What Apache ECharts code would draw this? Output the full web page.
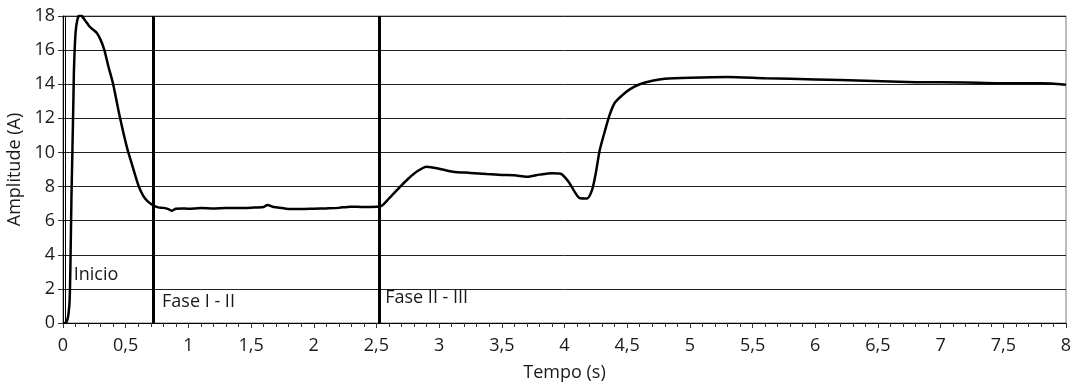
<!DOCTYPE html>
<html>
<head>
<meta charset="utf-8">
<script src="https://cdn.jsdelivr.net/npm/echarts@6/dist/echarts.min.js"></script>
<style>
  html, body { margin: 0; padding: 0; background: #fff; }
  #chart { width: 1076px; height: 385px; }
</style>
</head>
<body>
<div id="chart"></div>
<script>
// tempo (s) e amplitude (A)
var tempo = [0, 0.02, 0.035, 0.045, 0.053, 0.059, 0.067, 0.075, 0.083, 0.088, 0.1, 0.115, 0.133, 0.15,
  0.18, 0.21, 0.24, 0.27, 0.3, 0.33, 0.36, 0.4, 0.45, 0.51, 0.55, 0.6, 0.64, 0.68, 0.72,
  0.76, 0.8, 0.84, 0.865, 0.9, 0.95, 1.0, 1.1, 1.2, 1.3, 1.4, 1.5, 1.6, 1.63, 1.68, 1.75, 1.81,
  1.9, 2.0, 2.1, 2.2, 2.29, 2.4, 2.5, 2.54, 2.6, 2.69, 2.76, 2.82, 2.9, 3.0, 3.11, 3.25, 3.38,
  3.5, 3.6, 3.7, 3.8, 3.9, 3.97, 4.04, 4.08, 4.12, 4.18, 4.22, 4.25, 4.28, 4.32, 4.36, 4.4,
  4.46, 4.52, 4.6, 4.7, 4.8, 5.0, 5.3, 5.6, 6.0, 6.4, 6.8, 7.2, 7.6, 7.8, 8.0];
var amplitude = [0, 0, 0.2, 0.6, 1.35, 3.3, 7.2, 10.1, 13.1, 15, 17, 17.8, 18.05, 18.0,
  17.7, 17.4, 17.2, 17, 16.6, 16, 15.1, 14, 12.2, 10.3, 9.3, 8.1, 7.45, 7.1, 6.9,
  6.78, 6.75, 6.68, 6.58, 6.7, 6.72, 6.7, 6.74, 6.72, 6.75, 6.74, 6.76, 6.8, 6.92, 6.8, 6.74, 6.68,
  6.68, 6.7, 6.72, 6.75, 6.82, 6.8, 6.82, 6.86, 7.3, 8.0, 8.5, 8.87, 9.16, 9.05, 8.87, 8.8, 8.73,
  8.68, 8.66, 8.58, 8.7, 8.78, 8.75, 8.2, 7.7, 7.33, 7.3, 7.8, 8.8, 10.1, 11.2, 12.2, 12.9,
  13.35, 13.7, 14.0, 14.2, 14.32, 14.38, 14.42, 14.35, 14.28, 14.2, 14.12, 14.1, 14.05, 14.05, 13.97];

var fases = [0.022, 0.723, 2.525];
var faseLarguras = [1, 3, 3];
var rotulos = ['Inicio', 'Fase I - II', 'Fase II - III'];
var rotuloPos = [[0.085, 2.8], [0.79, 1.25], [2.57, 1.46]];

var xTicks = ['0', '0,5', '1', '1,5', '2', '2,5', '3', '3,5', '4', '4,5', '5', '5,5', '6', '6,5', '7', '7,5', '8'];

var fonte = '"Open Sans", "Noto Sans", sans-serif';
var corTexto = '#1a1a1a';
var chart = echarts.init(document.getElementById('chart'));

var linhas = fases.map(function (t, i) {
  return { xAxis: t, lineStyle: { width: faseLarguras[i], color: '#000', type: 'solid' } };
});

chart.setOption({
  animation: false,
  grid: {
    left: 63, right: 10, top: 16, bottom: 62, outerBoundsMode: 'none',
    show: true, borderColor: '#777', borderWidth: 1
  },
  xAxis: {
    type: 'value', min: 0, max: 8, interval: 0.5,
    name: 'Tempo (s)', nameLocation: 'middle', nameGap: 41,
    nameTextStyle: { fontFamily: fonte, fontSize: 18, color: corTexto },
    axisLine: { show: true, onZero: false, lineStyle: { color: '#000', width: 1 } },
    axisTick: { show: true, length: 5, lineStyle: { color: '#333' } },
    minorTick: { show: true, splitNumber: 5, length: 4, lineStyle: { color: '#333' } },
    splitLine: { show: false },
    axisLabel: {
      margin: 14, fontFamily: fonte, fontSize: 18, color: corTexto,
      formatter: function (v) { return xTicks[Math.round(v * 2)]; }
    }
  },
  yAxis: {
    type: 'value', min: 0, max: 18, interval: 2,
    name: 'Amplitude (A)', nameLocation: 'middle', nameGap: 35,
    nameTextStyle: { fontFamily: fonte, fontSize: 18, color: corTexto },
    axisLine: { show: true, lineStyle: { color: '#000', width: 1 } },
    axisTick: { show: true, length: 5, lineStyle: { color: '#333' } },
    splitLine: { show: true, lineStyle: { color: '#222', width: 1 } },
    axisLabel: { margin: 8, fontFamily: fonte, fontSize: 18, color: corTexto }
  },
  series: [
    {
      type: 'line',
      data: tempo.map(function (t, i) { return [t, amplitude[i]]; }),
      showSymbol: false,
      smooth: 0.25,
      lineStyle: { color: '#000', width: 2.5 },
      markLine: { symbol: 'none', silent: true, label: { show: false }, data: linhas }
    },
    {
      type: 'scatter',
      symbolSize: 0,
      itemStyle: { opacity: 1 },
      data: rotuloPos.map(function (p, i) { return { value: p, name: rotulos[i] }; }),
      label: {
        show: true, position: 'right', distance: 0, opacity: 1,
        fontFamily: fonte, fontSize: 18, color: corTexto,
        formatter: function (p) { return p.name; }
      }
    }
  ]
});
</script>
</body>
</html>
